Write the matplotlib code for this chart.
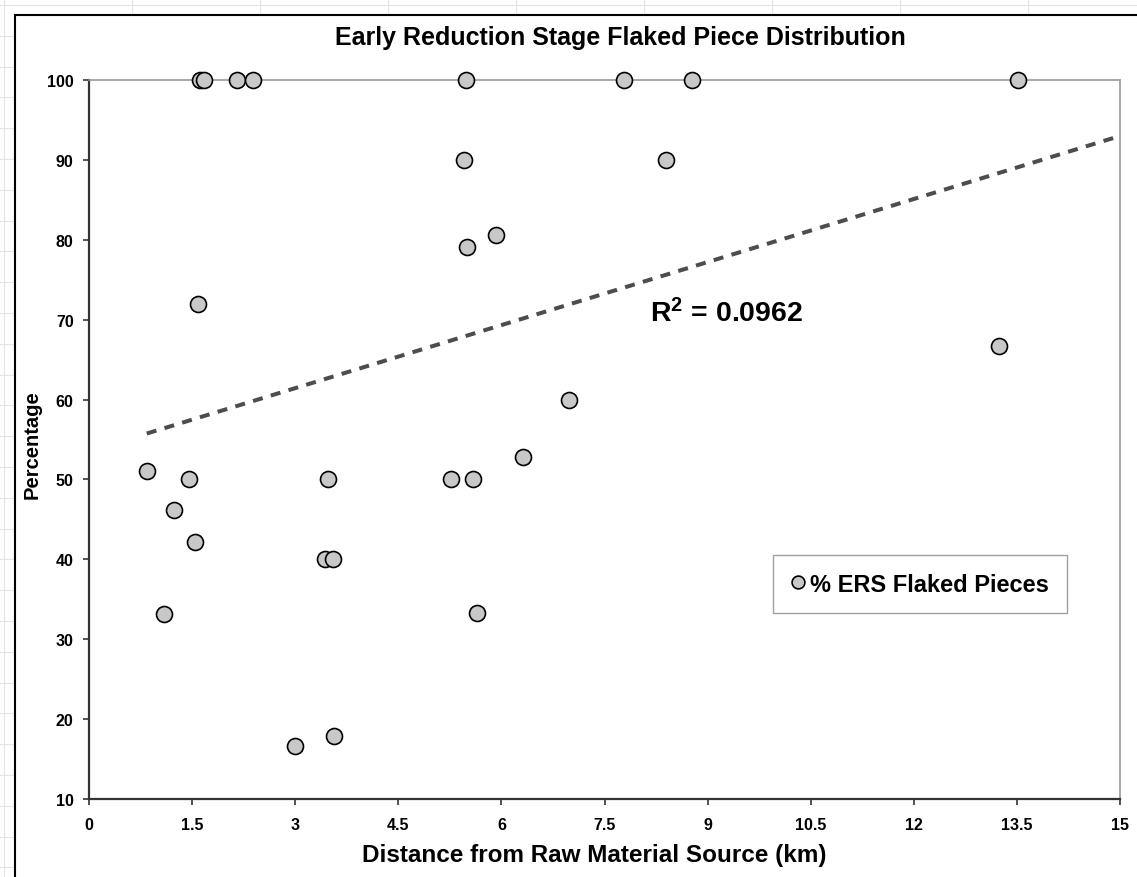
import numpy as np
import matplotlib
matplotlib.use('Agg')
import matplotlib.pyplot as plt
from matplotlib.lines import Line2D
from matplotlib.patches import Rectangle

plt.rcParams['font.family'] = ['Liberation Sans', 'DejaVu Sans']
plt.rcParams['mathtext.fontset'] = 'custom'
plt.rcParams['mathtext.bf'] = 'Liberation Sans:bold'
plt.rcParams['mathtext.rm'] = 'Liberation Sans:bold'
plt.rcParams['mathtext.default'] = 'bf'

# distance to raw material source (km) and % early reduction stage pieces
distance = [0.84, 1.09, 1.24, 1.46, 1.54, 1.59, 1.62, 1.68, 2.15, 2.38,
            3.00, 3.44, 3.47, 3.55, 3.57,
            5.26, 5.46, 5.48, 5.50, 5.58, 5.65, 5.92, 6.32, 6.99,
            7.78, 8.40, 8.78, 13.24, 13.51]
percent = [51.0, 33.2, 46.2, 50.0, 42.2, 72.0, 100, 100, 100, 100,
           16.6, 40.0, 50.0, 40.0, 17.9,
           50.0, 90.0, 100, 79.1, 50.0, 33.3, 80.6, 52.8, 60.0,
           100, 90.0, 100, 66.7, 100]
x_ticks = [0, 1.5, 3, 4.5, 6, 7.5, 9, 10.5, 12, 13.5, 15]
x_tick_labels = ['0', '1.5', '3', '4.5', '6', '7.5', '9', '10.5', '12', '13.5', '15']
y_ticks = [10, 20, 30, 40, 50, 60, 70, 80, 90, 100]
r2_text = '0.0962'

W, H = 1137, 878


def fx(px):
    return px / W


def fy(py):
    return 1 - py / H


fig = plt.figure(figsize=(W / 100, H / 100), dpi=100)

# spreadsheet cells behind the chart
for gx in np.arange(4, W, 128):
    fig.add_artist(Line2D([fx(gx), fx(gx)], [0, 1], color='#e3e3e3', lw=0.8, zorder=-3))
for gy in np.arange(6, H, 30.8):
    fig.add_artist(Line2D([0, 1], [fy(gy), fy(gy)], color='#e3e3e3', lw=0.8, zorder=-3))
# chart area
fig.add_artist(Rectangle((fx(15), fy(H + 10)), 1.2, fy(16) - fy(H + 10),
                         facecolor='white', edgecolor='black', lw=1.5, zorder=-1))

ax = fig.add_axes([fx(89), fy(800), fx(1120) - fx(89), fy(81) - fy(800)])
ax.set_facecolor('white')

ax.plot(distance, percent, linestyle='none', marker='o', markersize=11.5,
        markerfacecolor='#c8c8c8', markeredgecolor='black', markeredgewidth=1.2,
        clip_on=False, zorder=4, label='% ERS Flaked Pieces')

# linear trendline, forecast forward to 15 km
slope, intercept = np.polyfit(distance, percent, 1)
tx = np.array([min(distance), 15])
ax.plot(tx, slope * tx + intercept, color='#4d4d4d', lw=2.9,
        dashes=(2.5, 2.1), dash_capstyle='butt', zorder=3)
ax.text(8.16, 69.8, r'R$^2$ = ' + r2_text, fontsize=20.5, fontweight='bold', va='baseline')

ax.set_xlim(0, 15)
ax.set_ylim(10, 100)
ax.set_xticks(x_ticks)
ax.set_xticklabels(x_tick_labels)
ax.set_yticks(y_ticks)
ax.tick_params(direction='out', length=4, width=1.2, color='#333333', labelsize=11.5)
ax.tick_params(axis='y', pad=7)
ax.tick_params(axis='x', pad=9)
for lab in ax.get_xticklabels() + ax.get_yticklabels():
    lab.set_fontweight('bold')

for s in ['left', 'bottom']:
    ax.spines[s].set_color('#333333')
    ax.spines[s].set_linewidth(1.6)
for s in ['top', 'right']:
    ax.spines[s].set_color('#999999')
    ax.spines[s].set_linewidth(1.2)

fig.text(fx(620), fy(38), 'Early Reduction Stage Flaked Piece Distribution',
         ha='center', va='center', fontsize=18, fontweight='bold')
fig.text(fx(594), fy(856), 'Distance from Raw Material Source (km)',
         ha='center', va='center', fontsize=17.5, fontweight='bold')
fig.text(fx(32), fy(445), 'Percentage', rotation=90,
         ha='center', va='center', fontsize=14.5, fontweight='bold')

leg = ax.legend(loc='center', bbox_to_anchor=(0.806, 0.299),
                prop={'weight': 'bold', 'size': 17}, markerscale=0.8,
                handlelength=0.6, handletextpad=0.2, borderpad=0.75,
                borderaxespad=0, fancybox=False, framealpha=1, edgecolor='#a0a0a0')
leg.get_frame().set_linewidth(1.0)

fig.savefig('out.png', dpi=100)
